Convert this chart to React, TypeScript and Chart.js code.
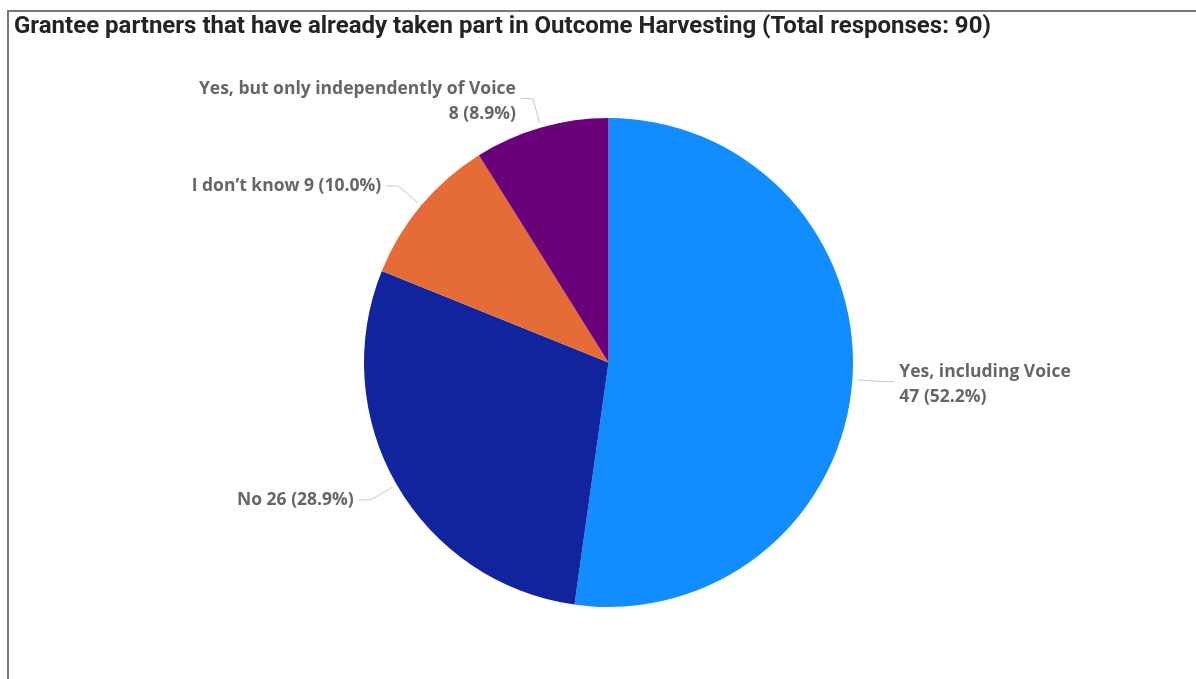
import { useEffect, useRef } from "react";
import { Chart, ArcElement, PieController } from "chart.js";

Chart.register(ArcElement, PieController);

const titleText =
  "Grantee partners that have already taken part in Outcome Harvesting (Total responses: 90)";
const categories = [
  "Yes, including Voice",
  "No",
  "I don\u2019t know",
  "Yes, but only independently of Voice",
];
const counts = [47, 26, 9, 8];
const sliceColors = ["#118DFF", "#12239E", "#E66C37", "#6B007B"];
const labelWrap = [true, false, false, true];

const TITLE_FONT = "bold 24px Roboto, 'DejaVu Sans', sans-serif";
const LABEL_FONT = "bold 17.5px 'Open Sans', 'Noto Sans', sans-serif";

const decorPlugin = {
  id: "decor",
  beforeDraw(chart: any) {
    const ctx = chart.ctx as CanvasRenderingContext2D;
    ctx.save();
    ctx.fillStyle = "#ffffff";
    ctx.fillRect(0, 0, chart.width, chart.height);
    ctx.fillStyle = "#777777";
    ctx.fillRect(7, 10, 2, chart.height - 10);
    ctx.fillRect(7, 10, chart.width - 7, 2);
    ctx.fillStyle = "#252423";
    ctx.font = TITLE_FONT;
    ctx.textAlign = "left";
    ctx.textBaseline = "alphabetic";
    ctx.fillText(titleText, 14, 33);
    ctx.restore();
  },
};

const labelPlugin = {
  id: "pbiLabels",
  afterDatasetsDraw(chart: any) {
    const ctx = chart.ctx as CanvasRenderingContext2D;
    const meta = chart.getDatasetMeta(0);
    const total = counts.reduce((a, b) => a + b, 0);
    meta.data.forEach((arc: any, i: number) => {
      const p = arc.getProps(["x", "y", "startAngle", "endAngle", "outerRadius"], true);
      const mid = (p.startAngle + p.endAngle) / 2;
      const cos = Math.cos(mid);
      const sin = Math.sin(mid);
      const r1 = p.outerRadius + 5;
      const r2 = p.outerRadius + 30;
      const x1 = p.x + cos * r1;
      const y1 = p.y + sin * r1;
      const x2 = p.x + cos * r2;
      const y2 = p.y + sin * r2;
      const right = cos >= 0;
      const x3 = x2 + (right ? 12 : -12);
      ctx.save();
      ctx.strokeStyle = "#c8c8c8";
      ctx.lineWidth = 1;
      ctx.beginPath();
      ctx.moveTo(x1, y1);
      ctx.lineTo(x2, y2);
      ctx.lineTo(x3, y2);
      ctx.stroke();

      const valueText = `${counts[i]} (${((counts[i] / total) * 100).toFixed(1)}%)`;
      ctx.fillStyle = "#666666";
      ctx.font = LABEL_FONT;
      ctx.textBaseline = "middle";
      ctx.textAlign = right ? "left" : "right";
      const tx = x3 + (right ? 5 : -5);
      if (labelWrap[i]) {
        ctx.fillText(categories[i], tx, y2 - 10);
        ctx.fillText(valueText, tx, y2 + 15);
      } else {
        ctx.fillText(`${categories[i]} ${valueText}`, tx, y2);
      }
      ctx.restore();
    });
  },
};

export default function App() {
  const ref = useRef<HTMLCanvasElement | null>(null);
  useEffect(() => {
    if (!ref.current) return;
    const chart = new Chart(ref.current, {
      type: "pie",
      data: {
        labels: categories,
        datasets: [
          {
            data: counts,
            backgroundColor: sliceColors,
            borderWidth: 0,
            hoverBorderWidth: 0,
            hoverOffset: 0,
            offset: 0,
          },
        ],
      },
      options: {
        responsive: false,
        animation: false,
        events: [],
        layout: { padding: { top: 118, bottom: 72, left: 121, right: 100 } },
        plugins: {
          legend: { display: false },
          title: { display: false },
          tooltip: { enabled: false },
        },
      },
      plugins: [decorPlugin, labelPlugin],
    });
    return () => chart.destroy();
  }, []);
  return (
    <div style={{ position: "absolute", left: 0, top: 0, width: 1196, height: 679 }}>
      <canvas ref={ref} width={1196} height={679} style={{ width: 1196, height: 679, display: "block" }} />
    </div>
  );
}
